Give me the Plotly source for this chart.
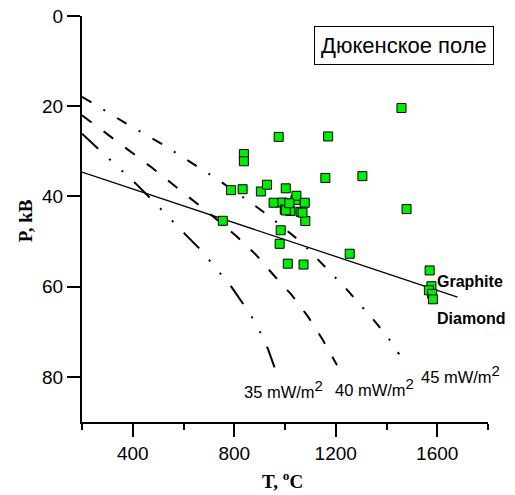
import plotly.graph_objects as go

# ---- data ----
geo45_T = [200, 370, 516, 658, 728, 866, 934, 1063, 1124, 1181, 1240, 1296, 1350, 1404, 1450]
geo45_P = [17.9, 23.7, 28.4, 33.5, 36.0, 41.4, 44.2, 50.1, 53.6, 56.8, 60.4, 64.0, 67.4, 71.1, 75.0]

geo40_T = [200, 304, 390, 475, 559, 642, 718, 807, 885, 953, 1026, 1090, 1147, 1205]
geo40_P = [22.0, 26.3, 30.0, 33.6, 37.3, 41.0, 44.5, 48.7, 52.9, 57.3, 61.8, 66.6, 71.6, 77.4]

geo35_T = [200, 271, 315, 363, 409, 471, 515, 562, 607, 669, 708, 752, 791, 841, 874, 906, 932, 962]
geo35_P = [26.1, 29.8, 32.1, 34.6, 37.0, 40.5, 43.1, 45.9, 48.4, 51.9, 54.5, 57.5, 60.2, 64.3, 67.1, 70.5, 73.7, 78.4]

gd_T = [200, 1680]
gd_P = [34.6, 62.3]

sample_T = [755, 787, 833, 838, 838, 905, 929, 975, 1003, 955, 990, 1041, 1045, 1078,
            1021, 1061, 999, 1080, 983, 979, 1011, 1073, 1170, 1159, 1305, 1459, 1479,
            1255, 1570, 1577, 1567, 1580, 1583, 1069, 1003, 1017]
sample_P = [45.4, 38.6, 38.4, 30.6, 32.2, 38.9, 37.4, 26.8, 38.2, 41.4, 41.35, 40.8, 39.85, 41.4,
            43.2, 43.4, 42.9, 45.45, 47.5, 50.5, 54.9, 55.1, 26.7, 35.9, 35.5, 20.4, 42.8,
            52.7, 56.4, 59.9, 60.8, 61.6, 62.8, 43.6, 43.1, 41.5]

geo_labels = ["35 mW/m", "40 mW/m", "45 mW/m"]
geo_label_T = [995, 1353, 1690]
geo_label_P = [82.7, 82.3, 79.3]

x_tickvals = [400, 800, 1200, 1600]
y_tickvals = [0, 20, 40, 60, 80]

ARIAL = "Arial, Liberation Sans, sans-serif"
TIMES = "Times New Roman, Liberation Serif, serif"

fig = go.Figure()

fig.add_trace(go.Scatter(x=geo45_T, y=geo45_P, mode="lines",
                         line=dict(color="black", width=2, dash="11px,14px,2px,14px"),
                         showlegend=False, hoverinfo="skip"))
fig.add_trace(go.Scatter(x=geo40_T, y=geo40_P, mode="lines",
                         line=dict(color="black", width=2, dash="12px,15px"),
                         showlegend=False, hoverinfo="skip"))
fig.add_trace(go.Scatter(x=geo35_T, y=geo35_P, mode="lines",
                         line=dict(color="black", width=2, dash="22px,15px,2px,15px,2px,15px"),
                         showlegend=False, hoverinfo="skip"))
fig.add_trace(go.Scatter(x=gd_T, y=gd_P, mode="lines",
                         line=dict(color="black", width=1.3),
                         showlegend=False, hoverinfo="skip"))
fig.add_trace(go.Scatter(x=sample_T, y=sample_P, mode="markers",
                         marker=dict(symbol="square", size=9, color="#00ee00",
                                     line=dict(color="black", width=1)),
                         showlegend=False))

annotations = []
for lab, t, p in zip(geo_labels, geo_label_T, geo_label_P):
    annotations.append(dict(x=t, y=p, xref="x", yref="y",
                            text=lab + '<sup><span style="font-size:15px">2</span></sup>',
                            showarrow=False,
                            font=dict(family=ARIAL, size=16.5, color="black"),
                            xanchor="center", yanchor="middle"))
annotations.append(dict(x=1592, y=58.8, xref="x", yref="y", text="<b>Graphite</b>",
                        showarrow=False, font=dict(family=ARIAL, size=16, color="black"),
                        xanchor="left", yanchor="middle"))
annotations.append(dict(x=1592, y=67.0, xref="x", yref="y", text="<b>Diamond</b>",
                        showarrow=False, font=dict(family=ARIAL, size=16, color="black"),
                        xanchor="left", yanchor="middle"))
annotations.append(dict(x=0.794, y=0.927, xref="paper", yref="paper", text="Дюкенское поле",
                        showarrow=False, font=dict(family=ARIAL, size=22, color="black"),
                        xanchor="center", yanchor="middle", bordercolor="black",
                        borderwidth=1, borderpad=6, bgcolor="white"))
annotations.append(dict(x=-0.140, y=0.495, xref="paper", yref="paper", text="<b>P, kB</b>",
                        showarrow=False, textangle=-90,
                        font=dict(family=TIMES, size=19, color="black"),
                        xanchor="center", yanchor="middle"))
annotations.append(dict(x=0.495, y=-0.144, xref="paper", yref="paper",
                        text="<b>T, <sup>o</sup>C</b>", showarrow=False,
                        font=dict(family=TIMES, size=19, color="black"),
                        xanchor="center", yanchor="middle"))

fig.update_layout(
    width=515, height=495,
    margin=dict(l=74, r=35, t=8, b=81),
    paper_bgcolor="white", plot_bgcolor="white",
    annotations=annotations,
    xaxis=dict(range=[200, 1800], tickvals=x_tickvals, ticks="outside", ticklen=13,
               tickwidth=2, tickcolor="black", showline=True, linewidth=2, linecolor="black",
               showgrid=False, zeroline=False, automargin=False, ticklabeloverflow="allow",
               tickfont=dict(family=ARIAL, size=19, color="black"),
               minor=dict(tickvals=[200, 600, 1000, 1400, 1800], ticks="outside", ticklen=6,
                          tickwidth=2, tickcolor="black", showgrid=False)),
    yaxis=dict(range=[90, 0], tickvals=y_tickvals, ticks="outside", ticklen=13,
               tickwidth=2, tickcolor="black", showline=True, linewidth=2, linecolor="black",
               showgrid=False, zeroline=False, automargin=False, ticklabeloverflow="allow",
               tickfont=dict(family=ARIAL, size=19, color="black")),
)

fig.write_html("out.html")
